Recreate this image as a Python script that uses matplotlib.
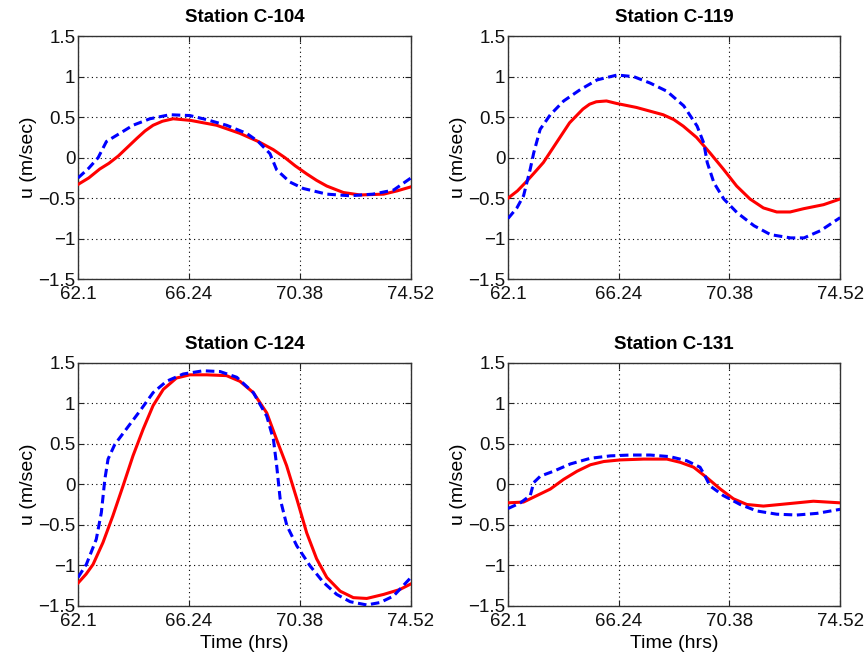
import matplotlib
matplotlib.use("Agg")
import matplotlib.pyplot as plt

plt.rcParams['font.family'] = ['Liberation Sans', 'DejaVu Sans']

stations = ['Station C-104', 'Station C-119', 'Station C-124', 'Station C-131']
x_ticks = [62.1, 66.24, 70.38, 74.52]
x_labels = ['62.1', '66.24', '70.38', '74.52']
y_ticks = [-1.5, -1, -0.5, 0, 0.5, 1, 1.5]
y_labels = ['\u22121.5', '\u22121', '\u22120.5', '0', '0.5', '1', '1.5']

# Station C-104
t_red_104 = [62.1, 62.5, 62.91, 63.25, 63.6, 63.95, 64.3, 64.6, 64.9, 65.25, 65.65, 66.3,
             67.27, 68.14, 68.82, 69.38, 69.82, 70.2, 70.63, 71.0, 71.38, 72.0, 72.62,
             73.5, 74.0, 74.52]
u_red_104 = [-0.33, -0.25, -0.14, -0.07, 0.02, 0.13, 0.24, 0.33, 0.4, 0.45, 0.48, 0.46,
             0.4, 0.3, 0.2, 0.1, 0.0, -0.1, -0.2, -0.28, -0.35, -0.43, -0.46,
             -0.45, -0.41, -0.36]
t_blue_104 = [62.1, 62.5, 62.85, 63.16, 63.66, 64.15, 64.78, 65.52, 66.27, 66.89, 67.64,
              68.39, 68.82, 69.26, 69.51, 70.0, 70.5, 71.38, 72.25, 73.1, 73.87, 74.52]
u_blue_104 = [-0.25, -0.13, 0.0, 0.2, 0.3, 0.4, 0.48, 0.53, 0.52, 0.47, 0.4,
              0.3, 0.2, 0.05, -0.15, -0.3, -0.38, -0.45, -0.47, -0.45, -0.4, -0.25]

# Station C-119
t_red_119 = [62.1, 62.45, 62.8, 63.1, 63.42, 63.9, 64.4, 64.9, 65.15, 65.4, 65.78, 66.15,
             66.9, 67.9, 68.3, 68.65, 69.15, 69.65, 70.15, 70.65, 71.15, 71.65, 72.15,
             72.65, 73.15, 73.9, 74.52]
u_red_119 = [-0.5, -0.41, -0.29, -0.18, -0.06, 0.18, 0.43, 0.6, 0.66, 0.69, 0.7, 0.67,
             0.62, 0.53, 0.47, 0.39, 0.25, 0.06, -0.14, -0.35, -0.51, -0.62, -0.67,
             -0.67, -0.63, -0.58, -0.51]
t_blue_119 = [62.1, 62.43, 62.68, 62.93, 63.06, 63.3, 63.68, 64.18, 64.8, 65.43, 66.18, 66.8,
              67.42, 68.04, 68.67, 69.17, 69.42, 69.55, 69.8, 70.17, 70.67, 71.3, 71.92,
              72.67, 73.17, 73.79, 74.52]
u_blue_119 = [-0.75, -0.62, -0.47, -0.14, 0.06, 0.35, 0.53, 0.7, 0.84, 0.96, 1.02, 1.0,
              0.92, 0.82, 0.64, 0.39, 0.18, -0.06, -0.31, -0.51, -0.68, -0.84, -0.95,
              -0.99, -0.99, -0.9, -0.74]

# Station C-124
t_red_124 = [62.1, 62.4, 62.66, 63.03, 63.4, 63.78, 64.15, 64.53, 64.9, 65.28, 65.77, 66.27,
             66.9, 67.64, 68.14, 68.64, 69.14, 69.51, 69.88, 70.26, 70.63, 71.0, 71.38,
             71.88, 72.37, 72.87, 73.5, 74.1, 74.52]
u_red_124 = [-1.22, -1.11, -0.99, -0.72, -0.39, -0.02, 0.35, 0.68, 0.97, 1.17, 1.31, 1.35,
             1.35, 1.34, 1.27, 1.13, 0.88, 0.55, 0.23, -0.18, -0.6, -0.92, -1.15,
             -1.32, -1.4, -1.41, -1.36, -1.3, -1.23]
t_blue_124 = [62.1, 62.41, 62.78, 62.97, 63.1, 63.22, 63.47, 63.9, 64.4, 64.9, 65.4, 66.02,
              66.77, 67.4, 68.02, 68.64, 69.14, 69.39, 69.51, 69.64, 69.89, 70.26, 70.76,
              71.25, 71.75, 72.25, 72.87, 73.37, 73.87, 74.52]
u_blue_124 = [-1.15, -0.99, -0.68, -0.35, 0.06, 0.31, 0.49, 0.68, 0.9, 1.13, 1.27, 1.36,
              1.4, 1.39, 1.32, 1.13, 0.84, 0.55, 0.23, -0.18, -0.51, -0.76, -1.01,
              -1.21, -1.36, -1.45, -1.49, -1.46, -1.38, -1.15]

# Station C-131
t_red_131 = [62.1, 62.68, 63.18, 63.68, 64.18, 64.68, 65.18, 65.68, 66.3, 67.17, 68.04,
             68.54, 69.04, 69.54, 70.04, 70.53, 71.03, 71.65, 72.28, 72.9, 73.52, 74.52]
u_red_131 = [-0.23, -0.22, -0.14, -0.06, 0.06, 0.16, 0.24, 0.28, 0.3, 0.31, 0.31,
             0.27, 0.21, 0.08, -0.06, -0.18, -0.25, -0.27, -0.25, -0.23, -0.21, -0.23]
t_blue_131 = [62.1, 62.56, 62.93, 63.06, 63.31, 63.8, 64.43, 65.18, 65.93, 66.66, 67.42,
              68.16, 68.78, 69.28, 69.47, 69.65, 70.15, 70.78, 71.4, 72.15, 72.9, 73.65, 74.52]
u_blue_131 = [-0.3, -0.23, -0.14, 0.02, 0.1, 0.16, 0.25, 0.32, 0.35, 0.36, 0.36,
              0.34, 0.29, 0.21, 0.1, -0.02, -0.14, -0.25, -0.33, -0.37, -0.38, -0.36, -0.31]

red_series = [(t_red_104, u_red_104), (t_red_119, u_red_119),
              (t_red_124, u_red_124), (t_red_131, u_red_131)]
blue_series = [(t_blue_104, u_blue_104), (t_blue_119, u_blue_119),
               (t_blue_124, u_blue_124), (t_blue_131, u_blue_131)]

fig = plt.figure(figsize=(8.67, 6.57), dpi=100)
positions = [[0.090, 0.575, 0.384, 0.370], [0.586, 0.575, 0.383, 0.370],
             [0.090, 0.078, 0.384, 0.370], [0.586, 0.078, 0.383, 0.370]]

for i in range(4):
    ax = fig.add_axes(positions[i])
    ax.plot(red_series[i][0], red_series[i][1], color='#ff0000', lw=2.2, zorder=3)
    ax.plot(blue_series[i][0], blue_series[i][1], color='#0000ff', lw=2.2,
            dashes=(2.8, 1.5), zorder=3)
    ax.set_xlim(62.1, 74.52)
    ax.set_ylim(-1.5, 1.5)
    ax.set_xticks(x_ticks)
    ax.set_xticklabels(x_labels)
    ax.set_yticks(y_ticks)
    ax.set_yticklabels(y_labels)
    ax.grid(True, color='black', linestyle=(0, (1, 3)), linewidth=0.8)
    ax.tick_params(direction='in', length=4, labelsize=13.5, top=True, right=True,
                   colors='#222222', labelcolor='#111111')
    ax.tick_params(axis='x', pad=5)
    ax.tick_params(axis='y', pad=2)
    for s in ax.spines.values():
        s.set_color('#333333')
        s.set_linewidth(1.0)
    ax.set_title(stations[i], fontsize=13.5, fontweight='bold', pad=10)
    ax.set_ylabel('u (m/sec)', fontsize=14, labelpad=1)
    if i >= 2:
        ax.set_xlabel('Time (hrs)', fontsize=14, labelpad=4)

fig.savefig('out.png', dpi=100)
